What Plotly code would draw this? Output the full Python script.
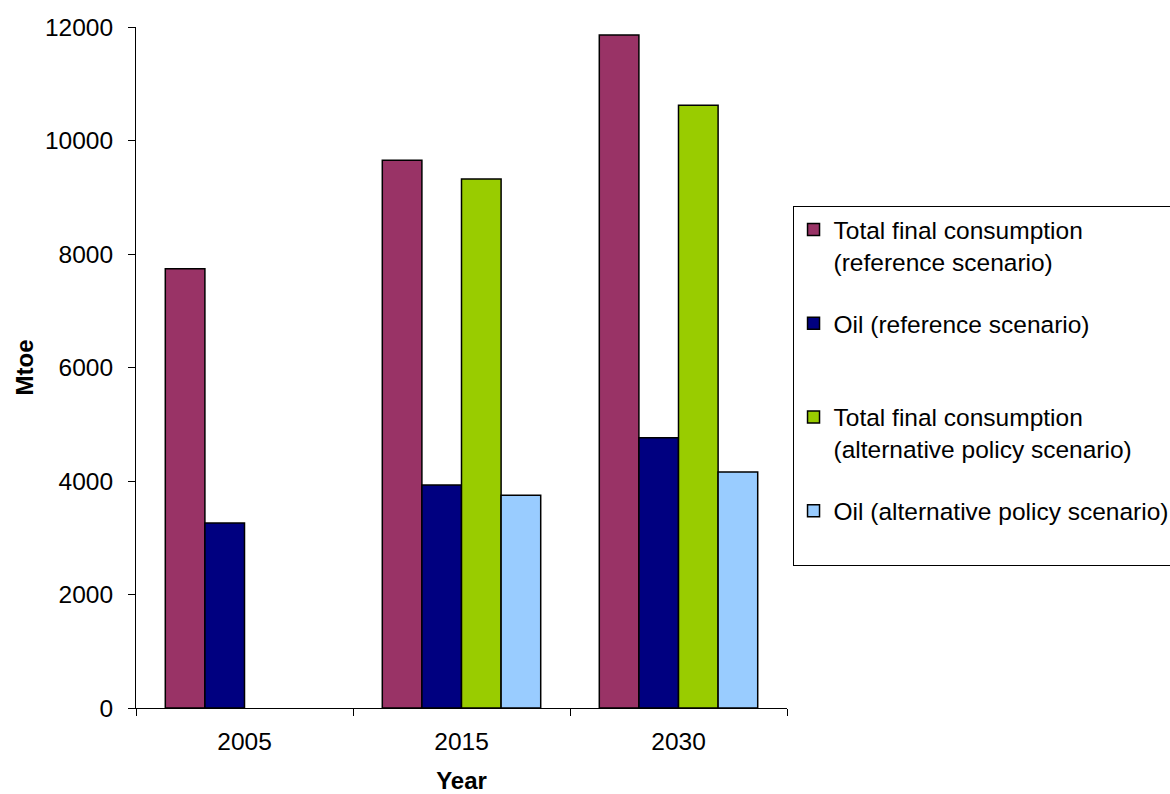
import plotly.graph_objects as go

years = ["2005", "2015", "2030"]
tfc_ref = [7740, 9650, 11860]
oil_ref = [3260, 3930, 4760]
tfc_alt = [None, 9320, 10620]
oil_alt = [None, 3750, 4160]

names = [
    "Total final consumption<br>(reference scenario)",
    "Oil (reference scenario)<br> ",
    "Total final consumption<br>(alternative policy scenario)",
    "Oil (alternative policy scenario)<br> ",
]
series = [tfc_ref, oil_ref, tfc_alt, oil_alt]
colors = ["#993366", "#000080", "#99CC00", "#99CCFF"]

FONT = "Liberation Sans, Arial, sans-serif"

fig = go.Figure()
for i, (nm, vals, col) in enumerate(zip(names, series, colors)):
    fig.add_trace(go.Bar(
        x=years, y=vals, name=nm, legendgroup=f"g{i}",
        marker=dict(color=col, line=dict(color="black", width=1.5)),
    ))

fig.update_layout(
    width=1170, height=794,
    margin=dict(l=136, r=383, t=27, b=86, autoexpand=False),
    paper_bgcolor="white", plot_bgcolor="white",
    barmode="group", bargap=0.27, bargroupgap=0,
    font=dict(family=FONT, size=24.5, color="black"),
    legend=dict(
        x=1.0085, xanchor="left", y=0.737, yanchor="top",
        bordercolor="black", borderwidth=1, bgcolor="white",
        font=dict(family=FONT, size=24.5, color="black"),
        valign="top", traceorder="grouped", tracegroupgap=27,
    ),
    xaxis=dict(
        showline=True, linecolor="black", linewidth=1,
        ticks="outside", ticklen=7, tickcolor="black",
        tickson="boundaries", showgrid=False, ticklabelstandoff=12,
        title=dict(text="<b>Year</b>", font=dict(size=24), standoff=25),
    ),
    yaxis=dict(
        range=[0, 12000], dtick=2000, tickformat="d", showline=True,
        linecolor="black", linewidth=1, ticks="outside", ticklen=7,
        tickcolor="black", showgrid=False, zeroline=False,
        ticklabelstandoff=10,
        title=dict(text="<b>Mtoe</b>", font=dict(size=24), standoff=4),
    ),
)

fig.write_html("out.html")
